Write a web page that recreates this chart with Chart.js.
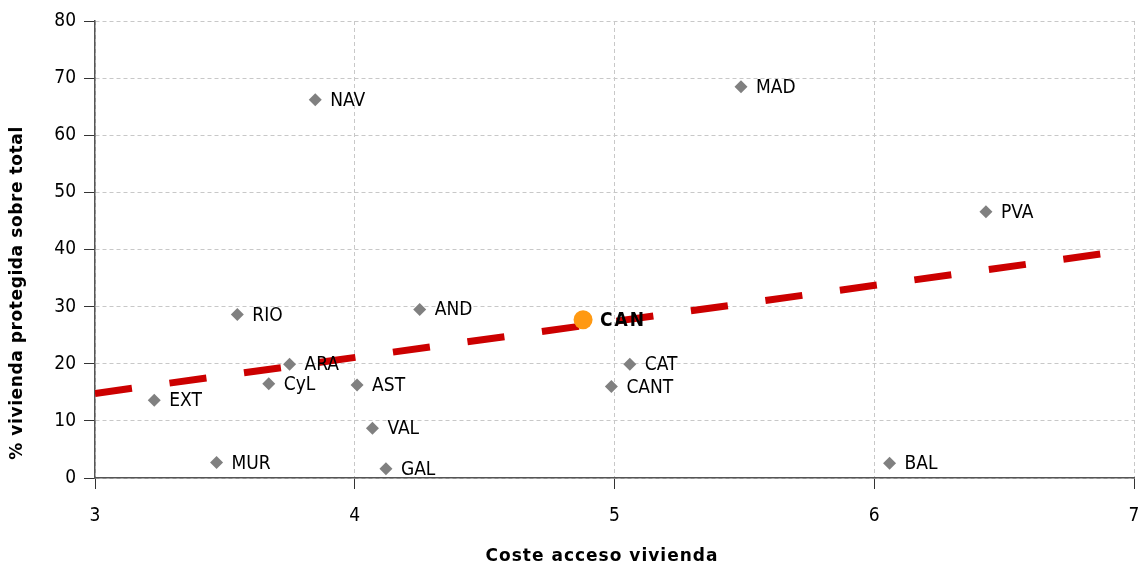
<!DOCTYPE html>
<html>
<head>
<meta charset="utf-8">
<script src="https://cdn.jsdelivr.net/npm/chart.js@4"></script>
<style>
html,body{margin:0;padding:0;background:#fff;}
canvas{display:block;}
</style>
</head>
<body>
<canvas id="c" width="1138" height="567"></canvas>
<script>
// Data
const regions   = ["NAV","MAD","PVA","RIO","AND","ARA","CAT","CyL","AST","CANT","EXT","VAL","MUR","GAL","BAL"];
const costeX    = [3.848,5.487,6.430,3.548,4.250,3.749,5.059,3.669,4.009,4.988,3.228,4.068,3.468,4.120,6.059];
const protegY   = [66.2, 68.5, 46.6, 28.6, 29.5, 19.9, 19.9, 16.5, 16.3, 16.0, 13.6, 8.7, 2.7, 1.6, 2.6];
const highlightLabel = ["CAN"];
const highlightX = [4.879];
const highlightY = [27.7];
const trendX = [3.0, 6.87];
const trendY = [14.8, 39.2];
const xTicks = [3,4,5,6,7];
const yTicks = [0,10,20,30,40,50,60,70,80];
const xTitle = 'Coste acceso vivienda';
const yTitle = '% vivienda protegida sobre total';

const FONT = "'DejaVu Sans Condensed','DejaVu Sans',sans-serif";
const TFONT = "'DejaVu Sans',sans-serif";

const labelPlugin = {
  id: 'pointLabels',
  afterDatasetsDraw(chart) {
    const ctx = chart.ctx;
    const xs = chart.scales.x, ys = chart.scales.y;
    ctx.save();
    ctx.textBaseline = 'middle';
    ctx.textAlign = 'left';
    ctx.fillStyle = '#000';
    ctx.font = "19px " + FONT;
    regions.forEach((r, i) => {
      ctx.fillText(r, xs.getPixelForValue(costeX[i]) + 15, ys.getPixelForValue(protegY[i]) + 1);
    });
    ctx.font = "bold 19px " + FONT;
    try { ctx.letterSpacing = '2px'; } catch(e) {}
    highlightLabel.forEach((r, i) => {
      ctx.fillText(r, xs.getPixelForValue(highlightX[i]) + 17, ys.getPixelForValue(highlightY[i]) + 1);
    });
    ctx.restore();

    // axis titles
    ctx.save();
    ctx.fillStyle = '#000';
    ctx.font = "bold 17px " + TFONT;
    ctx.textAlign = 'center';
    ctx.textBaseline = 'middle';
    try { ctx.letterSpacing = '1px'; } catch(e) {}
    ctx.fillText(xTitle, 602, 557);
    try { ctx.letterSpacing = '0.6px'; } catch(e) {}
    ctx.translate(18, 293);
    ctx.rotate(-Math.PI / 2);
    ctx.fillText(yTitle, 0, 0);
    ctx.restore();
  }
};

new Chart(document.getElementById('c'), {
  type: 'scatter',
  data: {
    datasets: [
      {
        type: 'line',
        data: trendX.map((x, i) => ({x, y: trendY[i]})),
        borderColor: '#CC0000',
        borderWidth: 7,
        borderDash: [37.3, 37.9],
        borderCapStyle: 'butt',
        pointRadius: 0,
        fill: false,
        order: 3
      },
      {
        data: costeX.map((x, i) => ({x, y: protegY[i]})),
        pointStyle: 'rectRot',
        pointRadius: 6.5,
        backgroundColor: '#808080',
        borderColor: '#808080',
        borderWidth: 0,
        order: 2
      },
      {
        data: highlightX.map((x, i) => ({x, y: highlightY[i]})),
        pointStyle: 'circle',
        pointRadius: 9.5,
        backgroundColor: '#FF9912',
        borderColor: '#FF9912',
        borderWidth: 0,
        order: 1
      }
    ]
  },
  options: {
    responsive: false,
    animation: false,
    events: [],
    layout: { autoPadding: false, padding: { top: 21, right: 4, left: 0, bottom: 0 } },
    plugins: { legend: { display: false }, tooltip: { enabled: false } },
    scales: {
      x: {
        type: 'linear',
        min: 3, max: 7,
        afterBuildTicks: s => { s.ticks = xTicks.map(v => ({value: v})); },
        afterFit: s => { s.height = 89; s.paddingRight = 0; s.paddingLeft = 0; },
        border: { display: true, color: '#555', width: 1.5, dash: [4, 3] },
        grid: {
          color: '#c8c8c8', lineWidth: 1,
          drawTicks: true, tickLength: 11, tickColor: '#333', tickBorderDash: [], tickWidth: 1
        },
        ticks: { color: '#000', font: { family: FONT, size: 19 }, padding: 16 },
        title: { display: false }
      },
      y: {
        type: 'linear',
        min: 0, max: 80,
        afterBuildTicks: s => { s.ticks = yTicks.map(v => ({value: v})); },
        afterFit: s => { s.width = 95; s.paddingTop = 0; s.paddingBottom = 0; },
        border: { display: true, color: '#555', width: 1.5, dash: [4, 3] },
        grid: {
          color: '#c8c8c8', lineWidth: 1,
          drawTicks: true, tickLength: 11, tickColor: '#333', tickBorderDash: [], tickWidth: 1
        },
        ticks: { color: '#000', font: { family: FONT, size: 19 }, padding: 8 },
        title: { display: false }
      }
    }
  },
  plugins: [labelPlugin]
});
</script>
</body>
</html>
